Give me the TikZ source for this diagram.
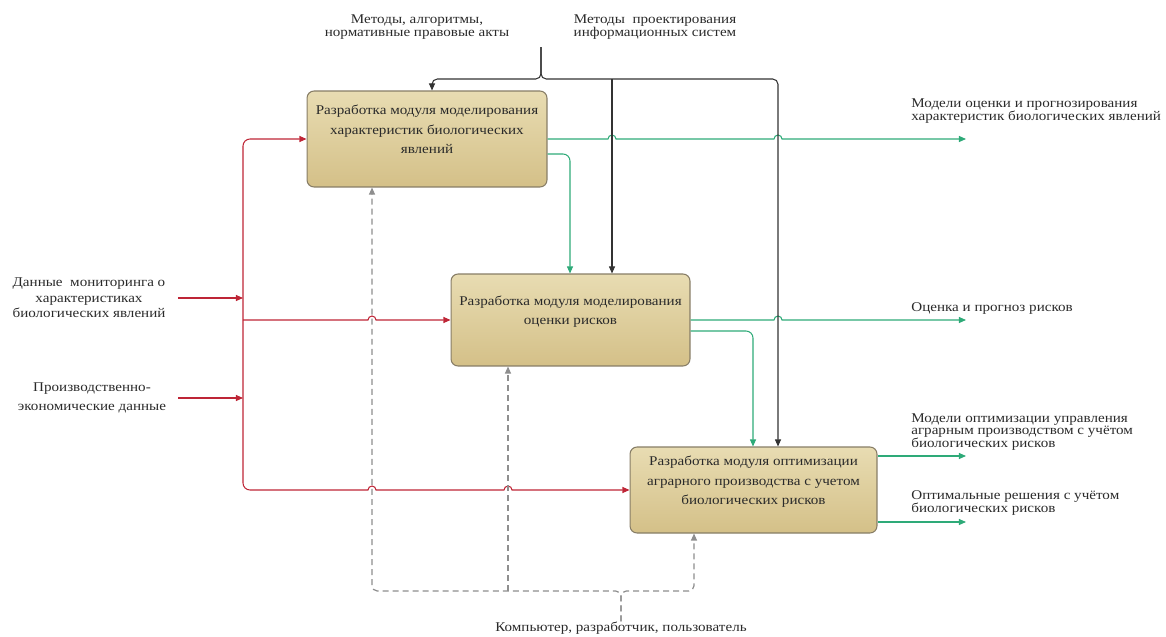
\documentclass[tikz,border=0pt]{standalone}
\usepackage{fontspec}
\setmainfont{Liberation Serif}[FakeStretch=1.13]
\usetikzlibrary{arrows.meta,positioning,calc}
\definecolor{boxlight}{HTML}{E8DCB2}
\definecolor{boxtan}{HTML}{D4C088}
\definecolor{boxedge}{HTML}{877D66}
\definecolor{inred}{HTML}{BE2536}
\definecolor{outgreen}{HTML}{2EAA78}
\definecolor{ctrlgray}{HTML}{333333}
\definecolor{mechgray}{HTML}{8E8E8E}
\definecolor{textgray}{HTML}{2A2A2A}

% small hop where a line runs over another one
\newcommand{\hop}{arc[start angle=180,end angle=360,radius=4]}

\begin{document}
\begin{tikzpicture}[x=0.02cm, y=-0.02cm,
  modbox/.style={rectangle, draw=boxedge, line width=0.6pt, rounded corners=4pt,
    top color=boxlight, bottom color=boxtan, align=center, text=textgray,
    font=\fontsize{7.6}{11}\selectfont, text depth=11pt},
  lbl/.style={inner sep=0pt, align=center, text=textgray, font=\fontsize{7.6}{7.6}\selectfont},
  tip/.style={-{Triangle[length=4pt,width=3.4pt]}},
  inarr/.style={tip, inred, line width=0.6pt},
  outarr/.style={tip, outgreen, line width=0.6pt},
  ctrlarr/.style={tip, ctrlgray, line width=0.6pt},
  mecharr/.style={tip, mechgray, line width=0.7pt, dash pattern=on 3.4pt off 2.3pt},
]
  \useasboundingbox (0,0) rectangle (1166,636);

  % the three modules
  \node[modbox, minimum width=4.8cm, minimum height=1.92cm] (b1) at (427,139)
    {Разработка модуля моделирования\\характеристик биологических\\явлений};
  \node[modbox, minimum width=4.78cm, minimum height=1.84cm] (b2) at (570.5,320)
    {Разработка модуля моделирования\\оценки рисков};
  \node[modbox, minimum width=4.94cm, minimum height=1.72cm] (b3) at (753.5,490)
    {Разработка модуля оптимизации\\аграрного производства с учетом\\биологических рисков};

  % labels
  \node[lbl] (ctl1) at (417,27) {Методы, алгоритмы,\\нормативные правовые акты};
  \node[lbl] (ctl2) at (655,27) {Методы\ \ проектирования\\информационных систем};
  \node[lbl, font=\fontsize{7.6}{8.8}\selectfont] (in1) at (89,298)
    {Данные\ \ мониторинга о\\характеристиках\\биологических явлений};
  \node[lbl, font=\fontsize{7.6}{10.8}\selectfont] (in2) at (92,398) {Производственно-\\экономические данные};
  \node[lbl, align=left, anchor=west, font=\fontsize{7.6}{7.1}\selectfont] (out1) at (911,111)
    {Модели оценки и прогнозирования\\характеристик биологических явлений};
  \node[lbl, align=left, anchor=west] (out2) at (911,308) {Оценка и прогноз рисков};
  \node[lbl, align=left, anchor=west, font=\fontsize{7.6}{7.1}\selectfont] (out3) at (911,432)
    {Модели оптимизации управления\\аграрным производством с учётом\\биологических рисков};
  \node[lbl, align=left, anchor=west, font=\fontsize{7.6}{7.1}\selectfont] (out4) at (911,503)
    {Оптимальные решения с учётом\\биологических рисков};
  \node[lbl] (mech) at (621,628) {Компьютер, разработчик, пользователь};

  \coordinate (bus) at (243,320);
  \coordinate (ctlroot) at (541,47);
  \coordinate (r1) at (966,139);
  \coordinate (r2) at (966,320);
  \coordinate (r3) at (966,456);
  \coordinate (r4) at (966,522);

  % inputs
  \draw[inarr] (in1.east) ++(12,0) -- (in1.east -| bus);
  \draw[inarr] (in2.east) ++(12,0) -- (in2.east -| bus);
  \draw[inarr, rounded corners=4pt] (bus) |- (b1.west);
  \draw[inarr] (bus) -- (368,320) \hop -- (b2.west);
  \draw[inarr] (bus) [rounded corners=4pt] -- (243,490) -- (300,490) [sharp corners]
    -- (368,490) \hop -- (504,490) \hop -- (b3.west);

  % outputs
  \draw[outarr] (b1.east) -- (608,139) \hop -- (774,139) \hop -- (r1);
  \draw[outarr, rounded corners=4pt] (b1.east |- 0,154) -- (570,154) -- (570,0 |- b2.north);
  \draw[outarr] (b2.east) -- (774,320) \hop -- (r2);
  \draw[outarr, rounded corners=4pt] (b2.east |- 0,331) -- (753,331) -- (753,0 |- b3.north);
  \draw[outarr] (b3.east |- 0,456) -- (r3);
  \draw[outarr] (b3.east |- 0,522) -- (r4);

  % controls
  \draw[ctrlarr, rounded corners=3pt] (ctlroot) |- (432,79) -- (432,0 |- b1.north);
  \draw[ctrlarr, rounded corners=3pt] (ctlroot) |- (778,79) -- (778,0 |- b3.north);
  \draw[ctrlarr] (612,79) -- (612,0 |- b2.north);

  % mechanisms
  \draw[mecharr, rounded corners=3pt] (mech.north) |- (372,591) -- (372,0 |- b1.south);
  \draw[mecharr, rounded corners=3pt] (mech.north) |- (694,591) -- (694,0 |- b3.south);
  \draw[mecharr] (508,591) -- (508,0 |- b2.south);
\end{tikzpicture}
\end{document}
